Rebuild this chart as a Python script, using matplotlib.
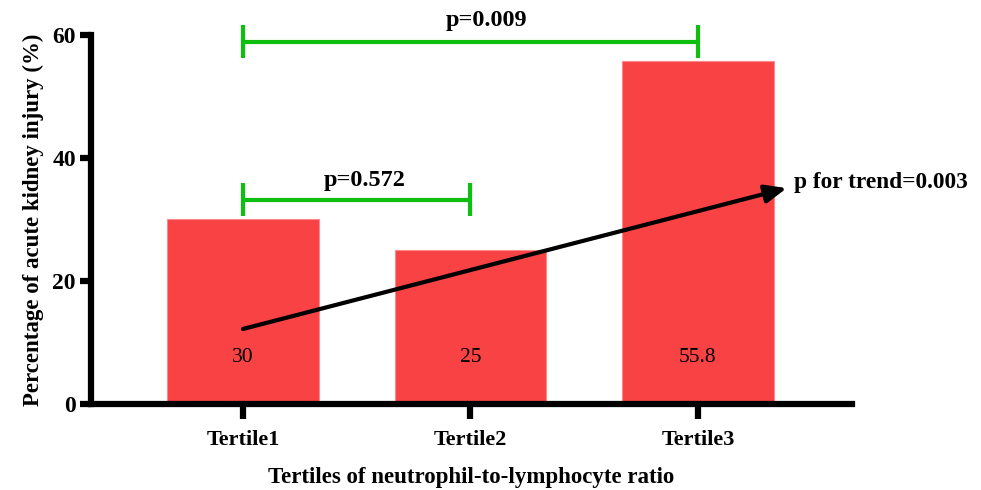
import matplotlib.pyplot as plt
import numpy as np

plt.rcParams['font.family'] = ['Liberation Serif', 'DejaVu Serif']

# data
groups = ['Tertile1', 'Tertile2', 'Tertile3']
aki_pct = [30, 25, 55.8]
value_labels = ['30', '25', '55.8']
pairs = [(0, 1, 'p=0.572'), (0, 2, 'p=0.009')]
trend_text = 'p for trend=0.003'

bar_color = '#F84244'
green = '#0FBF0F'

fig = plt.figure(figsize=(9.81, 4.90), dpi=100)
ax = fig.add_axes([0.0928, 0.1755, 0.7757, 0.7531])

x = np.arange(len(groups))
ax.bar(x, aki_pct, width=0.667, color=bar_color, edgecolor='#FA8A8C', linewidth=0.8)

for xi, lab in zip(x, value_labels):
    ax.text(xi, 7.6, lab, ha='center', va='center', fontsize=15.5)

ax.set_xlim(-0.668, 2.677)
ax.set_ylim(0, 60)
ax.set_yticks([0, 20, 40, 60])
ax.set_xticks(x)
ax.set_xticklabels(groups)

for s in ['top', 'right']:
    ax.spines[s].set_visible(False)
for s in ['left', 'bottom']:
    ax.spines[s].set_linewidth(4.5)
ax.tick_params(axis='y', width=4.5, length=8, labelsize=17, pad=3)
ax.tick_params(axis='x', width=4.5, length=11, labelsize=16, pad=8)
for t in ax.get_xticklabels() + ax.get_yticklabels():
    t.set_fontweight('bold')

ax.set_ylabel('Percentage of acute kidney injury (%)', fontsize=16.5, fontweight='bold', labelpad=6)
ax.set_xlabel('Tertiles of neutrophil-to-lymphocyte ratio', fontsize=16.5, fontweight='bold', labelpad=12)

# significance brackets
bracket_y = {1: 33.2, 2: 58.9}
text_y = {1: 36.4, 2: 62.3}
text_dx = {1: 0.035, 2: 0.07}
for a, b, txt in pairs:
    yb = bracket_y[b]
    ax.plot([a, b], [yb, yb], color=green, lw=3, clip_on=False, solid_capstyle='butt')
    for xe in (a, b):
        ax.plot([xe, xe], [yb - 2.7, yb + 2.7], color=green, lw=3, clip_on=False, solid_capstyle='butt')
    ax.text((a + b) / 2 + text_dx[b], text_y[b], txt, ha='center', va='center',
            fontsize=17.5, fontweight='bold', clip_on=False)

# trend arrow
ax.annotate('', xy=(2.39, 35.1), xytext=(0, 12.2),
            arrowprops=dict(arrowstyle='-|>,head_length=1.3,head_width=0.55',
                            color='black', lw=3, shrinkA=0, shrinkB=0))
ax.text(2.42, 36.0, trend_text, ha='left', va='center', fontsize=16.8, fontweight='bold')

fig.savefig('out.png', dpi=100)
